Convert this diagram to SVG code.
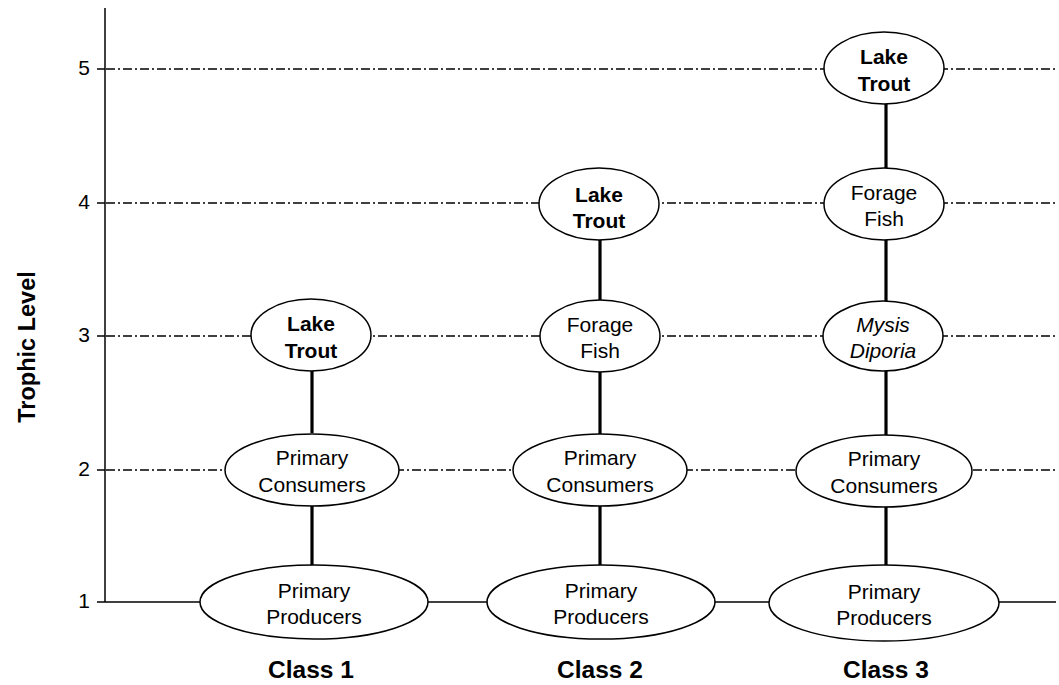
<svg xmlns="http://www.w3.org/2000/svg" width="1059" height="685" viewBox="0 0 1059 685">
<style>
.grid{stroke:#000;stroke-width:1.6;stroke-dasharray:9 3 2 3;fill:none}
.axis{stroke:#000;stroke-width:1.5;fill:none}
.con{stroke:#000;stroke-width:3.2;fill:none}
.node ellipse{fill:#fff;stroke:#000;stroke-width:1.5}
text{font-family:"Liberation Sans",Arial,sans-serif;fill:#000}
.lbl{font-size:21px;text-anchor:middle}
.b{font-weight:bold}
.i{font-style:italic}
.tick{font-size:21px;text-anchor:end}
.cls{font-size:24.5px;font-weight:bold;text-anchor:middle}
</style>
<rect width="1059" height="685" fill="#fff"/>
<g id="axes">
<line class="axis" x1="105" y1="8" x2="105" y2="602"/>
<line class="axis" x1="97" y1="69" x2="105" y2="69"/>
<line class="axis" x1="97" y1="203" x2="105" y2="203"/>
<line class="axis" x1="97" y1="336" x2="105" y2="336"/>
<line class="axis" x1="97" y1="470" x2="105" y2="470"/>
<line class="axis" x1="97" y1="602" x2="1056" y2="602"/>
<line class="grid" x1="106" y1="69" x2="1056" y2="69"/>
<line class="grid" x1="106" y1="203" x2="1056" y2="203"/>
<line class="grid" x1="106" y1="336" x2="1056" y2="336"/>
<line class="grid" x1="106" y1="470" x2="1056" y2="470"/>
<text class="tick" x="90" y="75">5</text>
<text class="tick" x="90" y="209">4</text>
<text class="tick" x="90" y="342">3</text>
<text class="tick" x="90" y="476">2</text>
<text class="tick" x="90" y="608">1</text>
<text class="b" font-size="23.5" text-anchor="middle" transform="translate(35,347) rotate(-90)">Trophic Level</text>
</g>
<g id="connectors">
<line class="con" x1="312" y1="371" x2="312" y2="433"/>
<line class="con" x1="312" y1="506" x2="312" y2="565"/>
<line class="con" x1="600" y1="240" x2="600" y2="300"/>
<line class="con" x1="600" y1="372" x2="600" y2="434"/>
<line class="con" x1="600" y1="506" x2="600" y2="565"/>
<line class="con" x1="886" y1="104" x2="886" y2="168"/>
<line class="con" x1="886" y1="240" x2="886" y2="301"/>
<line class="con" x1="886" y1="371" x2="886" y2="435"/>
<line class="con" x1="886" y1="507" x2="886" y2="565"/>
</g>
<g id="c1-producers" class="node"><ellipse cx="314" cy="602" rx="114" ry="37"/><text class="lbl" x="314" y="598">Primary</text><text class="lbl" x="314" y="624">Producers</text></g>
<g id="c1-consumers" class="node"><ellipse cx="312" cy="470" rx="87" ry="36"/><text class="lbl" x="312" y="465">Primary</text><text class="lbl" x="312" y="492">Consumers</text></g>
<g id="c1-trout" class="node"><ellipse cx="311" cy="335" rx="60" ry="36"/><text class="lbl b" x="311" y="331">Lake</text><text class="lbl b" x="311" y="358">Trout</text></g>
<g id="c2-producers" class="node"><ellipse cx="601" cy="602" rx="114" ry="37"/><text class="lbl" x="601" y="598">Primary</text><text class="lbl" x="601" y="624">Producers</text></g>
<g id="c2-consumers" class="node"><ellipse cx="600" cy="470" rx="87" ry="36"/><text class="lbl" x="600" y="465">Primary</text><text class="lbl" x="600" y="492">Consumers</text></g>
<g id="c2-forage" class="node"><ellipse cx="600" cy="336" rx="60" ry="36"/><text class="lbl" x="600" y="332">Forage</text><text class="lbl" x="600" y="358">Fish</text></g>
<g id="c2-trout" class="node"><ellipse cx="599" cy="204" rx="60" ry="36"/><text class="lbl b" x="599" y="202">Lake</text><text class="lbl b" x="599" y="228">Trout</text></g>
<g id="c3-producers" class="node"><ellipse cx="884" cy="603" rx="115" ry="38"/><text class="lbl" x="884" y="599">Primary</text><text class="lbl" x="884" y="625">Producers</text></g>
<g id="c3-consumers" class="node"><ellipse cx="884" cy="471" rx="88" ry="36"/><text class="lbl" x="884" y="466">Primary</text><text class="lbl" x="884" y="493">Consumers</text></g>
<g id="c3-mysis" class="node"><ellipse cx="883" cy="336" rx="60" ry="35"/><text class="lbl i" x="883" y="332">Mysis</text><text class="lbl i" x="883" y="358">Diporia</text></g>
<g id="c3-forage" class="node"><ellipse cx="884" cy="204" rx="60" ry="36"/><text class="lbl" x="884" y="200">Forage</text><text class="lbl" x="884" y="226">Fish</text></g>
<g id="c3-trout" class="node"><ellipse cx="884" cy="68" rx="60" ry="36"/><text class="lbl b" x="884" y="64">Lake</text><text class="lbl b" x="884" y="91">Trout</text></g>
<g id="class-labels">
<text class="cls" x="311" y="678">Class 1</text>
<text class="cls" x="600" y="678">Class 2</text>
<text class="cls" x="886" y="678">Class 3</text>
</g>
</svg>
